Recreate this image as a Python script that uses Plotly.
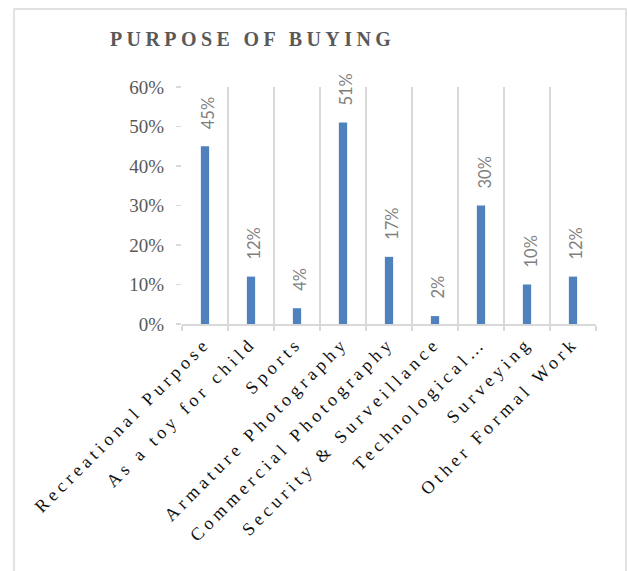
import plotly.graph_objects as go

categories = [
    "Recreational Purpose",
    "As a toy for child",
    "Sports",
    "Armature Photography",
    "Commercial Photography",
    "Security & Surveillance",
    "Technological…",
    "Surveying",
    "Other Formal Work",
]
values = [0.45, 0.12, 0.04, 0.51, 0.17, 0.02, 0.30, 0.10, 0.12]
y_ticks = [0.0, 0.1, 0.2, 0.3, 0.4, 0.5, 0.6]
y_tick_labels = ["0%", "10%", "20%", "30%", "40%", "50%", "60%"]
title_text = "PURPOSE OF BUYING"

W, H = 627, 571
ML, MR, MT, MB = 182, 31, 87, 247
pw = W - ML - MR
ph = H - MT - MB

SERIF = "Liberation Serif, Times New Roman, serif"
GRID = "#d9d9d9"

fig = go.Figure()
fig.add_trace(go.Bar(
    x=categories,
    y=values,
    marker=dict(color="#4F81BD", line=dict(width=0)),
    hoverinfo="skip",
))

annotations = []
for c, v in zip(categories, values):
    annotations.append(dict(
        x=c, y=v, xref="x", yref="y",
        text=f"{round(v * 100)}%",
        textangle=-90, showarrow=False,
        xanchor="center", yanchor="bottom",
        yshift=15, xshift=3,
        font=dict(family="Lato, Open Sans, sans-serif", size=16.5, color="#7f7f7f"),
    ))

# outer chart frame (decoration), converted from pixel edges to paper units
fx0, fx1, fy0, fy1 = 14, 626, 9, 600
shapes = [dict(
    type="rect", xref="paper", yref="paper", layer="below",
    x0=(fx0 - ML) / pw, x1=(fx1 - ML) / pw,
    y0=(H - MB - fy1) / ph, y1=(H - MB - fy0) / ph,
    line=dict(color=GRID, width=1.5), fillcolor="rgba(0,0,0,0)",
)]

fig.update_layout(
    width=W, height=H,
    margin=dict(l=ML, r=MR, t=MT, b=MB, pad=0),
    paper_bgcolor="white", plot_bgcolor="white",
    bargap=0.82,
    showlegend=False,
    title=dict(
        text=f"<b>{title_text}</b>",
        xref="container", yref="container",
        x=110 / W, xanchor="left",
        y=1 - 39 / H, yanchor="middle",
        font=dict(family=SERIF, size=20, color="#595959"),
    ),
    annotations=annotations,
    shapes=shapes,
    xaxis=dict(
        type="category",
        tickson="boundaries",
        showgrid=True, gridcolor=GRID, gridwidth=1.5,
        showline=True, linecolor=GRID, linewidth=1.5,
        ticks="outside", ticklen=5, tickcolor=GRID, tickwidth=1.5,
        tickangle=-45,
        tickfont=dict(family=SERIF, size=18, color="#111111"),
        automargin=False,
        fixedrange=True,
    ),
    yaxis=dict(
        range=[0, 0.6],
        tickvals=y_ticks, ticktext=y_tick_labels,
        showgrid=False, zeroline=False,
        showline=False,
        ticks="outside", ticklen=5, tickcolor=GRID, tickwidth=1.5,
        ticklabelstandoff=8,
        tickfont=dict(family=SERIF, size=19, color="#595959"),
        automargin=False,
        fixedrange=True,
    ),
)

post = """
(function(){
  var gd = document.getElementById('{plot_id}');
  function ls(){
    gd.querySelectorAll('g.xtick text').forEach(function(t){ t.style.letterSpacing = '4.3px'; });
    gd.querySelectorAll('text.gtitle').forEach(function(t){ t.style.letterSpacing = '4.4px'; });
  }
  ls();
  if (gd.on) { gd.on('plotly_afterplot', ls); }
})();
"""

fig.write_html("out.html", config={"displayModeBar": False, "staticPlot": True}, post_script=post)
